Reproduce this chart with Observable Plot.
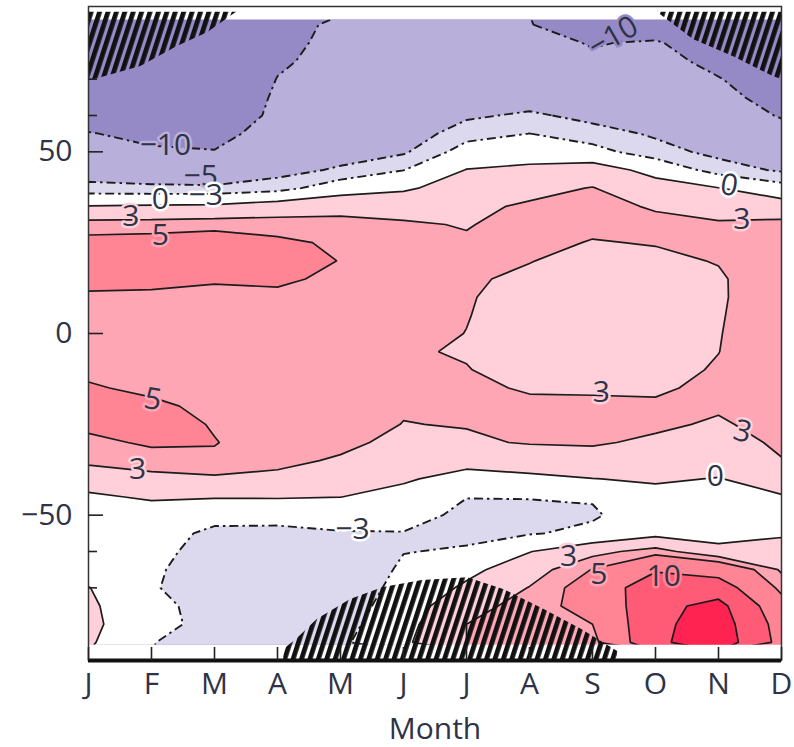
<!DOCTYPE html>
<html><head><meta charset="utf-8">
<script src="https://cdn.jsdelivr.net/npm/d3@7"></script>
<script src="https://cdn.jsdelivr.net/npm/@observablehq/plot@0.6"></script>
<style>body{margin:0;background:#fff;} #chart{width:794px;height:747px;}</style>
</head><body><div id="chart"></div>
<script>
// ---- data ----
const monthLabels = ["J","F","M","A","M","J","J","A","S","O","N","D"];
const lats = [85,80,75,70,65,60,55,50,45,40,35,30,25,20,15,10,5,0,-5,-10,-15,-20,-25,-30,-35,-40,-45,-50,-55,-60,-65,-70,-75,-80,-85];
const jan = [-17,-17,-16,-15,-14,-12,-9.8,-8.0,-6.3,-4.3,0.1,3.9,5.8,6.8,5.6,4.7,4.1,3.9,4.1,4.6,5.2,6.0,5.5,4.5,3.6,1.2,-0.4,-1.4,-2.0,-2.3,-1.5,0.1,0.6,0.8,0.4];
const feb = [-16,-16,-15,-14,-13,-12,-11,-9.5,-6.8,-4.5,0.3,4.0,6.0,7.2,5.7,4.5,4.0,3.8,4.0,4.4,4.6,5.4,6.2,5.3,4.2,2.2,0.3,-1.2,-2.2,-2.7,-2.85,-2.9,-2.7,-2.5,-2.95];
const mar = [-17,-16,-15,-14,-13,-12.5,-11.5,-9.8,-7.0,-4.6,0.5,4.2,6.5,8.0,5.2,4.5,3.9,3.7,3.9,4.1,4.3,4.5,4.8,5.1,4.6,2.6,0.2,-2.4,-3.4,-3.4,-3.5,-3.6,-3.4,-3.5,-3.6];
const apr = [-11.5,-11,-10.5,-9.9,-9.5,-9.2,-8.0,-7.0,-5.8,-3.9,1.5,4.0,5.5,5.8,5.4,4.5,3.9,3.7,3.8,3.9,4.0,4.1,4.1,3.8,3.6,2.4,0.2,-2.2,-3.6,-3.8,-4.0,-4.2,-4.3,-4.4,-4.4];
const may = [-9.2,-9.0,-8.8,-8.6,-8.3,-7.8,-7.0,-6.0,-4.7,-1.5,2.3,3.6,4.6,4.95,4.5,4.2,3.9,3.7,3.7,3.8,3.9,4.0,3.9,3.6,2.7,1.3,0.02,-1.8,-3.2,-4.0,-4.5,-4.6,-4.5,-4.0,-3.5];
const jun = [-8.0,-7.8,-7.6,-7.4,-7.2,-7.0,-6.4,-5.3,-3.05,-0.5,2.3,3.2,3.9,4.1,4.0,3.8,3.6,3.4,3.1,3.1,3.15,3.2,2.95,2.3,1.5,0.3,-0.8,-2.0,-3.1,-3.05,-2.7,-2.2,-1.5,-1.0,-0.5];
const jul = [-7.0,-6.9,-6.8,-6.6,-6.1,-5.4,-3.8,-2.0,0.1,1.6,2.5,2.9,3.2,3.3,3.2,3.1,3.05,2.98,2.92,3.04,3.3,3.3,3.1,2.7,0.8,-0.9,-2.95,-3.6,-3.3,-2.85,-0.8,0.5,2.0,3.0,3.0];
const aug = [-9.9,-9.0,-8.2,-7.4,-6.3,-4.6,-2.98,-1.3,0.6,2.3,3.3,3.6,3.5,3.05,2.7,2.5,2.4,2.4,2.5,2.6,2.85,3.3,3.4,3.15,1.6,-0.7,-2.9,-3.7,-3.2,-0.1,1.8,3.1,4.0,4.5,4.5];
const sep = [-11.5,-10.2,-9.5,-8.7,-7.5,-5.7,-4.1,-2.2,1.5,3.1,3.6,3.4,2.9,2.5,2.2,2.0,2.0,2.1,2.2,2.4,2.8,3.3,3.5,3.25,2.0,-0.05,-2.8,-3.3,-2.4,2.2,5.1,6.5,6.0,5.0,4.0];
const oct = [-12.5,-9.6,-8.6,-7.7,-6.8,-6.0,-5.3,-4.2,-1.0,1.3,2.8,3.5,3.1,2.6,2.2,2.0,1.9,1.9,2.0,2.3,2.7,3.3,3.4,2.6,1.6,0.3,-0.8,-1.5,-0.9,4.0,9.5,13.2,13.5,13.8,14.0];
const nov = [-14,-12.5,-11.2,-9.8,-8.9,-7.8,-6.8,-5.6,-4.0,0.1,1.9,3.3,3.5,3.1,2.75,2.7,2.8,2.9,2.97,3.2,3.5,3.3,2.7,2.0,1.1,-0.1,-1.0,-1.5,-1.3,1.0,8.0,12.5,16.5,17.5,18.0];
const dec = [-16,-15,-13.5,-12.5,-11.5,-10.3,-8.5,-6.8,-5.3,-2.0,1.5,3.6,4.1,4.3,4.4,4.6,4.6,4.5,4.5,4.5,4.4,4.2,3.9,3.4,2.9,1.2,-0.2,-1.0,-0.3,1.0,2.7,4.2,6.5,8.0,8.5];

const levels = [-10,-5,-3,0,3,5,10,15];
const bandColors = ["#9589c6","#b8b0da","#dcd8ee","#ffffff","#ffd0da","#ffa6b4","#ff8595","#ff5b77","#ff2351"];
const dataLatExtent = [-85.6, 86.4];
const latDomain = [-90, 90];
const majorLatTicks = [-50, 0, 50];
const minorLatTicks = [70, 60, -60, -70];

// no-data (hatched) regions
const hatchTLMonth = [0, 0.83, 1.41, 1.89, 2.35];
const hatchTLLat = [69.4, 73.5, 79, 82.8, 88.4];
const hatchTRMonth = [9.03, 9.6, 10.24, 10.87, 11];
const hatchTRLat = [88.4, 80.9, 76.2, 70.7, 69.9];
const hatchTopEdge = 88.4;
const hatchBotMonth = [3.1, 3.3, 3.63, 4.16, 4.68, 5.3, 6.02, 6.6, 7.24, 7.83, 8.4];
const hatchBotLat = [-87, -84.2, -78.7, -73.2, -69.9, -68, -67.2, -70.5, -76, -81.5, -87.5];
const hatchBottomEdge = -90;

// contour labels
const labelText  = ["−10","−5","0","−3","3","5","−10","0","3","5","3","3","3","0","−3","3","5","10"];
const labelMonth = [1.22,1.78,1.14,1.86,0.67,1.14,8.33,10.17,10.37,1.02,0.78,8.14,10.38,9.95,4.19,7.62,8.1,9.13];
const labelLat   = [51.7,43.2,36.9,38.0,32.2,27.0,81.7,40.7,31.4,-18.2,-37.4,-16.2,-27.0,-39.4,-54.0,-61.4,-66.3,-66.9];
const labelRot   = [0,0,0,0,0,0,-30,10,0,10,0,0,15,0,0,0,0,0];
const labelBand  = [-7,-7,-1,-1,1,4,-12,-1,1,4,1,1,1,-1,-1,1,4,7];

// ---- tables built from the arrays ----
const monthCols = [jan,feb,mar,apr,may,jun,jul,aug,sep,oct,nov,dec];
const nRows = lats.length;
const grid = [];
for (let r = 0; r < nRows; r++) {
  const src = nRows - 1 - r; // row 0 = southernmost
  for (let c = 0; c < 12; c++) grid.push(monthCols[c][src]);
}
const latStep = Math.abs(lats[0] - lats[1]);
const gy1 = d3.min(lats) - latStep / 2, gy2 = d3.max(lats) + latStep / 2;

const hatchTL = hatchTLMonth.map((m, i) => ({m, lo: hatchTLLat[i], hi: hatchTopEdge}));
const hatchTR = hatchTRMonth.map((m, i) => ({m, lo: hatchTRLat[i], hi: hatchTopEdge}));
const hatchBot = hatchBotMonth.map((m, i) => ({m, lo: hatchBottomEdge, hi: hatchBotLat[i]}));
const contourLabels = labelText.map((t, i) => ({t, m: labelMonth[i], lat: labelLat[i], r: labelRot[i], band: labelBand[i]}));

// ---- plot ----
const W = 794, H = 747, mL = 88, mR = 13, mT = 6, mB = 87;
const frameW = W - mL - mR, frameH = H - mT - mB;
const base = {value: d => d, width: 12, height: nRows, x1: -0.5, x2: 11.5, y1: gy1, y2: gy2};
const ink = "#2e3347";
const fs = 30;

const chart = Plot.plot({
  width: W, height: H,
  marginLeft: mL, marginRight: mR, marginTop: mT, marginBottom: mB,
  style: {fontFamily: "'Open Sans', sans-serif", color: ink, background: "#fff"},
  x: {domain: [0, 11]},
  y: {domain: latDomain},
  color: {type: "threshold", domain: levels, range: bandColors},
  marks: [
    Plot.contour(grid, {...base, thresholds: [-100, ...levels], fill: "value", stroke: "none"}),
    Plot.contour(grid, {...base, thresholds: levels.filter(l => l < 0), fill: "none", stroke: "#1c1c1c", strokeWidth: 1.9, strokeDasharray: "9,4,2.5,4"}),
    Plot.contour(grid, {...base, thresholds: levels.filter(l => l >= 0), fill: "none", stroke: "#1c1c1c", strokeWidth: 1.7}),
    Plot.areaY(hatchTL, {x: "m", y1: "lo", y2: "hi", fill: "url(#hatch)"}),
    Plot.areaY(hatchTR, {x: "m", y1: "lo", y2: "hi", fill: "url(#hatch)"}),
    Plot.areaY(hatchBot, {x: "m", y1: "lo", y2: "hi", fill: "url(#hatch)"}),
    Plot.text(contourLabels, {x: "m", y: "lat", text: "t", rotate: "r", fontSize: fs, fill: ink, stroke: "band", strokeWidth: 5, paintOrder: "stroke", strokeLinejoin: "round"}),
    Plot.frame({stroke: "#333", strokeWidth: 1.5}),
    Plot.ruleY([latDomain[0]], {stroke: "#111", strokeWidth: 4}),
    Plot.ruleX(d3.range(12), {insetTop: frameH - 13, stroke: "#222", strokeWidth: 1.6}),
    Plot.ruleY(majorLatTicks, {insetRight: frameW - 15, stroke: "#222", strokeWidth: 1.6}),
    Plot.ruleY(minorLatTicks, {insetRight: frameW - 9, stroke: "#222", strokeWidth: 1.6}),
    Plot.axisX(d3.range(12), {tickSize: 0, tickPadding: 12, fontSize: fs, tickFormat: i => monthLabels[i], label: null}),
    Plot.axisY(majorLatTicks, {tickSize: 0, tickPadding: 16, fontSize: fs, label: null}),
    Plot.text(["Month"], {text: d => d, frameAnchor: "bottom", dy: 78, fontSize: fs, lineAnchor: "bottom"})
  ]
});

const svg = chart.tagName.toLowerCase() === "svg" ? chart : chart.querySelector("svg");
const xs = chart.scale("x"), ys = chart.scale("y");
const cx0 = xs.apply(0), cx1 = xs.apply(11);
const cy0 = ys.apply(dataLatExtent[1]), cy1 = ys.apply(dataLatExtent[0]);
const ns = "http://www.w3.org/2000/svg";
const defs = document.createElementNS(ns, "defs");
defs.innerHTML =
  `<pattern id="hatch" patternUnits="userSpaceOnUse" width="8" height="12" patternTransform="rotate(18)">` +
  `<rect x="0" y="0" width="4.8" height="12" fill="#111"/></pattern>` +
  `<clipPath id="dataClip"><rect x="${cx0}" y="${cy0}" width="${cx1 - cx0}" height="${cy1 - cy0}"/></clipPath>`;
svg.insertBefore(defs, svg.firstChild);
svg.querySelectorAll('g[aria-label="contour"]').forEach(g => g.setAttribute("clip-path", "url(#dataClip)"));

document.getElementById("chart").appendChild(chart);
</script>
</body></html>
